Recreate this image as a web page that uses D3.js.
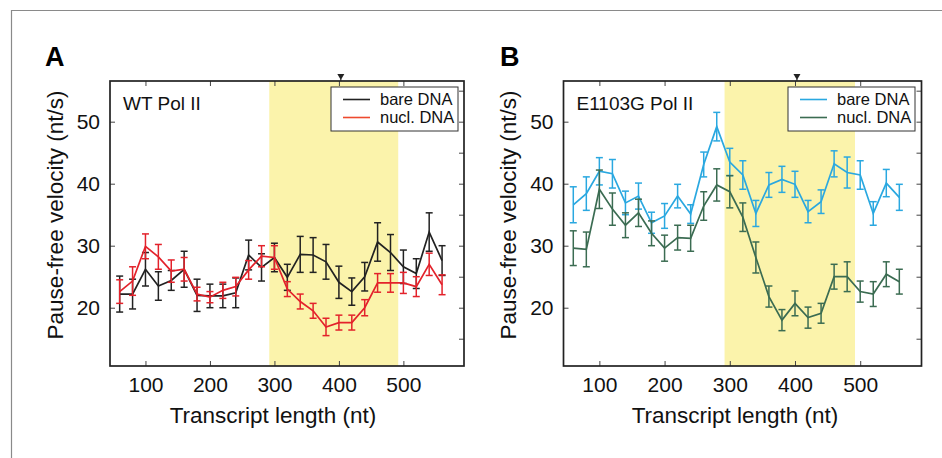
<!DOCTYPE html>
<html><head><meta charset="utf-8">
<script src="https://cdn.jsdelivr.net/npm/d3@7"></script>
<style>
html,body{margin:0;padding:0;background:#fff;}
svg{display:block;font-family:"Liberation Sans",Arial,sans-serif;}
</style></head>
<body><svg id="c" width="942" height="458"></svg>
<script>
// ---- data ----
const lengths = [60,80,100,120,140,160,180,200,220,240,260,280,300,320,340,360,380,400,420,440,460,480,500,520,540,560];
const xTicks = [100,200,300,400,500];
const yTicks = [20,30,40,50];
const yMinorTicks = [15,20,25,30,35,40,45,50,55];
const shadedRange = [292,492];
const markerPos = 403;

const wtBare = [22.2,22.2,26.2,23.5,24.4,26.2,22.0,21.9,21.9,22.4,28.5,26.5,28.1,24.9,28.6,28.5,27.4,24.1,22.6,25.0,30.6,28.9,26.6,25.5,32.2,27.6];
const wtBareErr = [2.9,2.4,2.7,2.3,1.6,2.9,2.6,1.9,1.9,2.4,2.4,2.2,2.3,2.1,2.9,2.8,2.8,2.6,2.2,2.3,3.1,2.9,2.7,2.4,3.1,2.4];
const wtNucl = [22.6,24.3,29.9,28.2,25.9,26.2,22.2,21.7,22.8,23.4,26.1,28.3,28.1,23.0,21.0,19.5,16.9,17.6,17.6,20.0,24.0,24.0,24.0,23.4,27.0,23.7];
const wtNuclErr = [1.9,2.3,2.0,2.0,1.8,1.9,1.1,0.9,1.3,1.5,1.5,1.7,1.9,1.2,1.2,1.2,1.4,1.2,1.2,1.3,1.5,1.5,1.7,1.6,1.8,1.6];

const mutBare = [36.6,38.4,42.0,41.6,36.9,38.0,33.7,34.8,38.0,35.1,43.1,49.2,43.5,41.4,35.2,39.8,40.7,39.9,35.5,37.1,43.2,41.8,41.4,35.2,40.1,37.8];
const mutBareErr = [2.9,2.7,2.2,2.3,1.9,2.1,1.7,2.0,1.9,1.5,2.0,2.3,2.2,2.3,2.1,2.0,2.1,2.1,1.8,1.9,2.1,2.5,2.3,1.9,2.2,2.1];
const mutNucl = [29.6,29.4,39.1,35.9,33.3,35.3,32.0,29.6,31.3,31.2,36.4,39.8,38.7,34.6,28.1,21.8,18.0,20.7,18.4,19.1,25.0,25.0,22.6,22.2,25.4,24.2];
const mutNuclErr = [2.8,2.8,3.1,2.6,2.0,2.2,2.0,2.1,2.0,2.1,2.3,2.6,2.6,2.3,2.5,1.7,1.7,2.0,1.7,1.6,2.0,2.4,1.7,2.0,2.0,2.0];

const seriesLabels = ["bare DNA","nucl. DNA"];

// ---- drawing ----
const svg = d3.select("#c");
// outer frame
svg.append("path").attr("d","M11.5,458 V10.5 H942").attr("fill","none").attr("stroke","#8a8a8a").attr("stroke-width",1.2);

function panel(cfg){
  const g = svg.append("g");
  const x = d3.scaleLinear().domain([45,594]).range([cfg.left,cfg.right]);
  const y = d3.scaleLinear().domain([10.6,56.56]).range([366,81]);
  const top=81, bottom=366;
  // shading
  g.append("rect").attr("x",x(shadedRange[0])).attr("y",top)
    .attr("width",x(shadedRange[1])-x(shadedRange[0])).attr("height",bottom-top)
    .attr("fill","#fbf3ab");
  // axes with inward ticks
  const bAx = g.append("g").attr("transform",`translate(0,${bottom})`)
    .call(d3.axisBottom(x).tickValues(xTicks).tickSizeInner(-5).tickSizeOuter(0).tickPadding(11));
  const tAx = g.append("g").attr("transform",`translate(0,${top})`)
    .call(d3.axisTop(x).tickValues(xTicks).tickSizeInner(-5).tickSizeOuter(0).tickFormat(""));
  const lAx = g.append("g").attr("transform",`translate(${cfg.left},0)`)
    .call(d3.axisLeft(y).tickValues(yTicks).tickSizeInner(-5).tickSizeOuter(0).tickPadding(10));
  const rAx = g.append("g").attr("transform",`translate(${cfg.right},0)`)
    .call(d3.axisRight(y).tickValues(yMinorTicks).tickSizeInner(-5).tickSizeOuter(0).tickFormat(""));
  [bAx,tAx,lAx,rAx].forEach(a=>{
    a.select(".domain").remove();
    a.selectAll("line").attr("stroke","#444").attr("stroke-width",1);
    a.selectAll("text").attr("font-size",21).attr("fill","#111").attr("font-family","Liberation Sans, Arial, sans-serif");
  });
  // box
  g.append("rect").attr("x",cfg.left).attr("y",top).attr("width",cfg.right-cfg.left).attr("height",bottom-top)
    .attr("fill","none").attr("stroke","#222").attr("stroke-width",1.7);
  // marker triangle
  const mx = x(markerPos);
  g.append("path").attr("d",`M${mx-3.5},${top-7} L${mx+3.5},${top-7} L${mx},${top-1} Z`).attr("fill","#222");
  g.append("line").attr("x1",mx).attr("x2",mx).attr("y1",top-2).attr("y2",top).attr("stroke","#222");

  // series
  cfg.series.forEach(s=>{
    const sg = g.append("g");
    const pts = lengths.map((l,i)=>({l, v:s.vals[i], e:s.errs[i]}));
    sg.append("path").datum(pts)
      .attr("d", d3.line().x(d=>x(d.l)).y(d=>y(d.v)))
      .attr("fill","none").attr("stroke",s.color).attr("stroke-width",1.7);
    const cap = 3.5;
    const eb = sg.selectAll(".eb").data(pts).enter().append("g");
    eb.append("line").attr("x1",d=>x(d.l)).attr("x2",d=>x(d.l))
      .attr("y1",d=>y(d.v-d.e)).attr("y2",d=>y(d.v+d.e));
    eb.append("line").attr("x1",d=>x(d.l)-cap).attr("x2",d=>x(d.l)+cap)
      .attr("y1",d=>y(d.v-d.e)).attr("y2",d=>y(d.v-d.e));
    eb.append("line").attr("x1",d=>x(d.l)-cap).attr("x2",d=>x(d.l)+cap)
      .attr("y1",d=>y(d.v+d.e)).attr("y2",d=>y(d.v+d.e));
    eb.selectAll("line").attr("stroke",s.color).attr("stroke-width",1.5);
  });

  // legend
  const lg = g.append("g");
  lg.append("rect").attr("x",cfg.legend.x).attr("y",87).attr("width",cfg.legend.w).attr("height",44)
    .attr("fill","#fff").attr("stroke","#333").attr("stroke-width",1);
  cfg.series.forEach((s,i)=>{
    const yy = 99.5 + i*18;
    lg.append("line").attr("x1",cfg.legend.x+12).attr("x2",cfg.legend.x+39).attr("y1",yy).attr("y2",yy)
      .attr("stroke",s.legendColor||s.color).attr("stroke-width",1.6);
    lg.append("text").attr("x",cfg.legend.x+49).attr("y",yy+5.5).attr("font-size",16.5).attr("fill","#111")
      .text(seriesLabels[i]);
  });

  // inner title
  g.append("text").attr("x",cfg.left+13).attr("y",110).attr("font-size",19).attr("fill","#111").text(cfg.title);
  // panel letter
  g.append("text").attr("x",cfg.letterX).attr("y",66).attr("font-size",27).attr("font-weight","bold").attr("fill","#000").text(cfg.letter);
  // axis titles
  g.append("text").attr("x",cfg.xTitleX).attr("y",423).attr("text-anchor","middle").attr("font-size",22.5).attr("fill","#111")
    .text("Transcript length (nt)");
  g.append("text").attr("transform",`translate(${cfg.yTitleX},215) rotate(-90)`).attr("text-anchor","middle")
    .attr("font-size",22.5).attr("fill","#111").text("Pause-free velocity (nt/s)");
}

panel({left:110, right:464, title:"WT Pol II", letter:"A", letterX:45, xTitleX:273, yTitleX:63,
  legend:{x:331, w:127},
  series:[{vals:wtBare, errs:wtBareErr, color:"#222222"},
          {vals:wtNucl, errs:wtNuclErr, color:"#e3222b", legendColor:"#ee4a2e"}]});
panel({left:563.5, right:921.5, title:"E1103G Pol II", letter:"B", letterX:500, xTitleX:735, yTitleX:516,
  legend:{x:788, w:127},
  series:[{vals:mutBare, errs:mutBareErr, color:"#2aa8e0"},
          {vals:mutNucl, errs:mutNuclErr, color:"#3b6c52"}]});
</script></body></html>
